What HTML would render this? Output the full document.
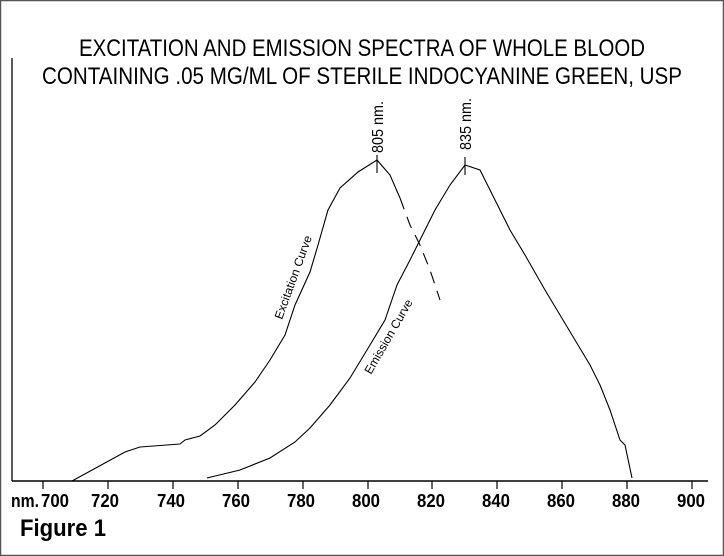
<!DOCTYPE html>
<html><head><style>
html,body{margin:0;padding:0;background:#fff}
svg{display:block}
text{font-family:"Liberation Sans",Arial,sans-serif}
</style></head><body>
<svg width="724" height="556" viewBox="0 0 724 556">
<rect x="0.5" y="0.5" width="723" height="555" fill="#fff" stroke="#555" stroke-width="1.5"/>
<text x="362" y="56" font-size="24" text-anchor="middle" textLength="566" lengthAdjust="spacingAndGlyphs">EXCITATION AND EMISSION SPECTRA OF WHOLE BLOOD</text>
<text x="362" y="84" font-size="24" text-anchor="middle" textLength="640" lengthAdjust="spacingAndGlyphs">CONTAINING .05 MG/ML OF STERILE INDOCYANINE GREEN, USP</text>
<line x1="12" y1="58" x2="12" y2="481" stroke="#000" stroke-width="1.3"/>
<line x1="12" y1="481" x2="708" y2="481" stroke="#000" stroke-width="1.5"/>
<g stroke="#000" stroke-width="1.2">
<line x1="43" y1="481" x2="43" y2="489"/><line x1="108" y1="481" x2="108" y2="489"/><line x1="173" y1="481" x2="173" y2="489"/><line x1="238" y1="481" x2="238" y2="489"/><line x1="303" y1="481" x2="303" y2="489"/><line x1="368" y1="481" x2="368" y2="489"/><line x1="432" y1="481" x2="432" y2="489"/><line x1="497" y1="481" x2="497" y2="489"/><line x1="562" y1="481" x2="562" y2="489"/><line x1="627" y1="481" x2="627" y2="489"/><line x1="692" y1="481" x2="692" y2="489"/>
</g>
<g font-size="18" font-weight="bold" text-anchor="middle">
<g transform="translate(0,507)">
<text x="25" y="0" textLength="28" lengthAdjust="spacingAndGlyphs">nm.</text>
<text x="55" y="0" textLength="28" lengthAdjust="spacingAndGlyphs">700</text>
<text x="105" y="0" textLength="28" lengthAdjust="spacingAndGlyphs">720</text>
<text x="171" y="0" textLength="28" lengthAdjust="spacingAndGlyphs">740</text>
<text x="236" y="0" textLength="28" lengthAdjust="spacingAndGlyphs">760</text>
<text x="301" y="0" textLength="28" lengthAdjust="spacingAndGlyphs">780</text>
<text x="366" y="0" textLength="28" lengthAdjust="spacingAndGlyphs">800</text>
<text x="431" y="0" textLength="28" lengthAdjust="spacingAndGlyphs">820</text>
<text x="496" y="0" textLength="28" lengthAdjust="spacingAndGlyphs">840</text>
<text x="561" y="0" textLength="28" lengthAdjust="spacingAndGlyphs">860</text>
<text x="626" y="0" textLength="28" lengthAdjust="spacingAndGlyphs">880</text>
<text x="691" y="0" textLength="28" lengthAdjust="spacingAndGlyphs">900</text>
</g>
</g>
<text x="20" y="536" font-size="24" font-weight="bold" textLength="86" lengthAdjust="spacingAndGlyphs">Figure 1</text>
<g fill="none" stroke="#000" stroke-width="1.1">
<polyline points="72,481 125,452 140,447 180,444 185,440 200,436 215,425 235,405 255,382 270,360 285,335 295,305 310,272 318,245 328,210 340,188 358,172 377,160 390,175 400,198"/>
<polyline points="400,198 410,225 420,245 430,270 440,300" stroke-dasharray="12,8"/>
<polyline points="207,478 240,470 270,458 295,442 310,428 330,405 350,378 370,345 385,320 397,285 410,260 420,240 435,210 450,185 465,165 480,170 495,200 510,230 525,255 545,290 560,315 575,340 590,365 600,385 610,410 615,425 620,440 625,445 632,478"/>
<line x1="377" y1="155" x2="377" y2="173"/>
<line x1="465" y1="157" x2="465" y2="175"/>
</g>
<text transform="translate(383,153) rotate(-90)" font-size="16" textLength="52" lengthAdjust="spacingAndGlyphs">805 nm.</text>
<text transform="translate(471,150) rotate(-90)" font-size="16" textLength="52" lengthAdjust="spacingAndGlyphs">835 nm.</text>
<text transform="translate(282,320) rotate(-70)" font-size="12" textLength="88" lengthAdjust="spacingAndGlyphs">Excitation Curve</text>
<text transform="translate(371,375) rotate(-60)" font-size="12" textLength="84" lengthAdjust="spacingAndGlyphs">Emission Curve</text>
</svg>
</body></html>
